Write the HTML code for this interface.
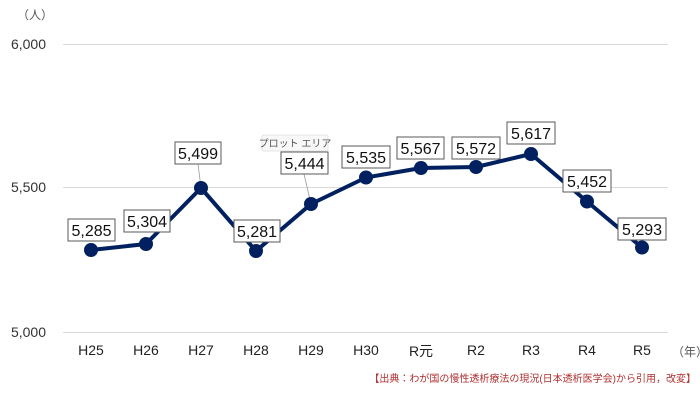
<!DOCTYPE html>
<html><head><meta charset="utf-8"><style>
body{margin:0;background:#fff}
svg text{font-family:"Liberation Sans","Noto Sans CJK JP",sans-serif}
</style></head><body>
<svg width="700" height="406" viewBox="0 0 700 406" xmlns="http://www.w3.org/2000/svg">
<rect width="700" height="406" fill="#fff"/>
<g stroke="#d9d9d9" stroke-width="1">
<line x1="63" y1="44.5" x2="668" y2="44.5"/>
<line x1="63" y1="187.5" x2="668" y2="187.5"/>
<line x1="63" y1="332.5" x2="668" y2="332.5"/>
</g>
<g font-size="14" fill="#333" text-anchor="end">
<text x="46" y="49">6,000</text>
<text x="46" y="192">5,500</text>
<text x="46" y="337">5,000</text>
</g>
<text x="17" y="19" font-size="12" fill="#555">（人）</text>
<g font-size="14" fill="#222" text-anchor="middle">
<text x="91" y="355">H25</text><text x="146" y="355">H26</text><text x="201" y="355">H27</text>
<text x="256" y="355">H28</text><text x="311" y="355">H29</text><text x="366" y="355">H30</text>
<text x="421" y="356">R元</text><text x="476" y="355">R2</text><text x="531" y="355">R3</text>
<text x="587" y="355">R4</text><text x="642" y="355">R5</text>
</g>
<text x="672" y="356" font-size="12" fill="#555">（年）</text>
<text x="696" y="382" font-size="10" fill="#b03030" text-anchor="end">【出典：わが国の慢性透析療法の現況(日本透析医学会)から引用，改変】</text>
<g stroke="#999" stroke-width="0.8">
<line x1="198" y1="164" x2="201" y2="188"/>
<line x1="304" y1="174" x2="311" y2="204"/>
</g>
<polyline fill="none" stroke="#002060" stroke-width="4" stroke-linejoin="round"
points="91,250 146,244 201,188 256,251 311,204 366,177.5 421,168 476,167 531,154 587,201.5 642,247.5"/>
<g fill="#002060">
<circle cx="91" cy="250" r="7"/><circle cx="146" cy="244" r="7"/><circle cx="201" cy="188" r="7"/>
<circle cx="256" cy="251" r="7"/><circle cx="311" cy="204" r="7"/><circle cx="366" cy="177.5" r="7"/>
<circle cx="421" cy="168" r="7"/><circle cx="476" cy="167" r="7"/><circle cx="531" cy="154" r="7"/>
<circle cx="587" cy="201.5" r="7"/><circle cx="642" cy="247.5" r="7"/>
</g>
<rect x="262" y="135" width="66" height="16" rx="2" fill="#f8f8f8" stroke="#ddd" stroke-width="0.8"/>
<text x="295" y="147" font-size="10" fill="#555" text-anchor="middle">プロット エリア</text>
<g fill="#fff" stroke="#595959" stroke-width="1">
<rect x="68" y="219" width="47" height="22"/><rect x="124" y="210" width="46" height="22"/>
<rect x="175" y="142" width="46" height="22"/><rect x="234" y="220" width="46" height="22"/>
<rect x="281" y="152" width="47" height="22"/><rect x="342" y="146" width="48" height="22"/>
<rect x="397" y="137" width="47" height="22"/><rect x="452" y="137" width="48" height="22"/>
<rect x="507" y="122" width="48" height="22"/><rect x="563" y="170" width="48" height="22"/>
<rect x="618" y="218" width="48" height="22"/>
</g>
<g font-size="16" fill="#111" text-anchor="middle">
<text x="91.5" y="236">5,285</text><text x="147" y="227">5,304</text><text x="198" y="159">5,499</text>
<text x="257" y="237">5,281</text><text x="304.5" y="169">5,444</text><text x="366" y="163">5,535</text>
<text x="420.5" y="154">5,567</text><text x="476" y="154">5,572</text><text x="531" y="139">5,617</text>
<text x="587" y="187">5,452</text><text x="642" y="235">5,293</text>
</g>
</svg>
</body></html>
